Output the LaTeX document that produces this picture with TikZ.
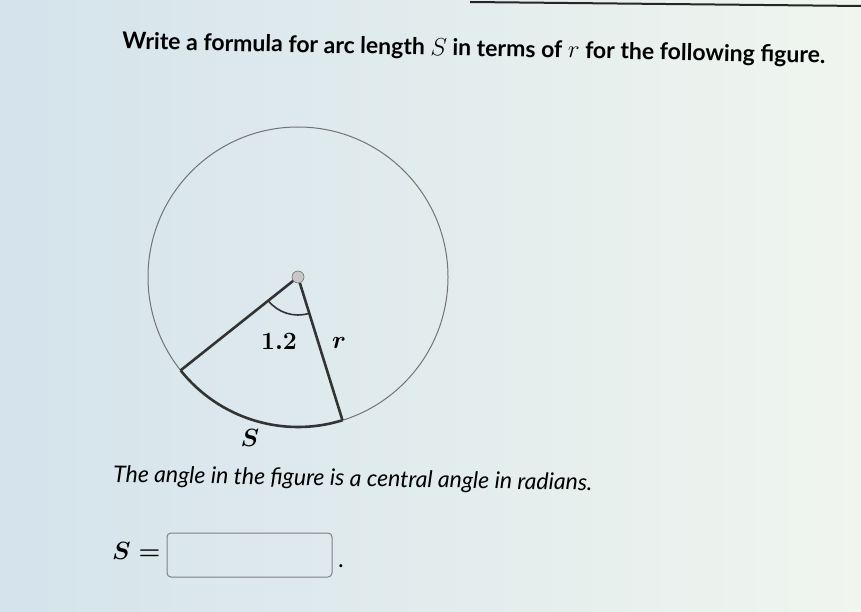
\documentclass[tikz,border=0pt]{standalone}
\usepackage{fontspec}
\setmainfont{Lato}
\usepackage{amsmath}
\usepackage{tikz}

\begin{document}
\begin{tikzpicture}[x=1pt,y=1pt,
	rim/.style={draw=black!55,line width=1pt},
	sector/.style={draw=black!80,line width=2.6pt},
	lbl/.style={font=\fontsize{30}{33}\selectfont\boldmath},
	prompt/.style={anchor=base west,inner sep=0pt}]
	\useasboundingbox (0,0) rectangle (861,611);
	\shade[left color={rgb,255:red,212;green,227;blue,236},right color={rgb,255:red,240;green,245;blue,238}] (0,0) rectangle (861,611);
	\coordinate (edgeL) at (470,609);
	\coordinate (edgeR) at (861,605);
	\draw[black!85,line width=2pt] (edgeL) -- (edgeR);
	\node[prompt,rotate=-1.15,font=\fontsize{23}{26}\selectfont\bfseries] (title) at (122,562)
		{Write a formula for arc length $S$ in terms of $r$ for the following figure.};
	\node[circle,draw=black!60,fill=black!22,minimum size=12pt,inner sep=0pt] (O) at (298,334) {};
	\draw[rim] (O.center) circle[radius=150];
	\path (O.center) ++(218.5:150) coordinate (A);
	\path (O.center) ++(287.25:150) coordinate (B);
	\draw[sector,line join=miter] (A) -- (O);
	\draw[sector] (O) -- (B);
	\draw[sector] (A) arc[start angle=218.5,end angle=287.25,radius=150];
	\draw[black!80,line width=1.6pt] (O.center) ++(218.5:38) arc[start angle=218.5,end angle=287.25,radius=38];
	\node[circle,draw=black!60,fill=black!22,minimum size=12pt,inner sep=0pt] at (O) {};
	\node[lbl] (angle) at (279,270) {$1.2$};
	\node[lbl] (rad) at (339,268) {$r$};
	\node[lbl] (arclen) at (250,173) {$S$};
	\node[prompt,rotate=-1,font=\fontsize{23}{26}\selectfont\itshape] (note) at (113,129)
		{The angle in the figure is a central angle in radians.};
	\node[prompt,font=\fontsize{26}{29}\selectfont\boldmath] (eq) at (112,52) {$S=$};
	\node[draw=black!50,line width=1pt,rounded corners=4pt,minimum width=165pt,minimum height=44pt,inner sep=0pt] (answer) at (249.5,56) {};
	\node[prompt,font=\fontsize{24}{27}\selectfont] (dot) at (338,44) {.};
\end{tikzpicture}
\end{document}
